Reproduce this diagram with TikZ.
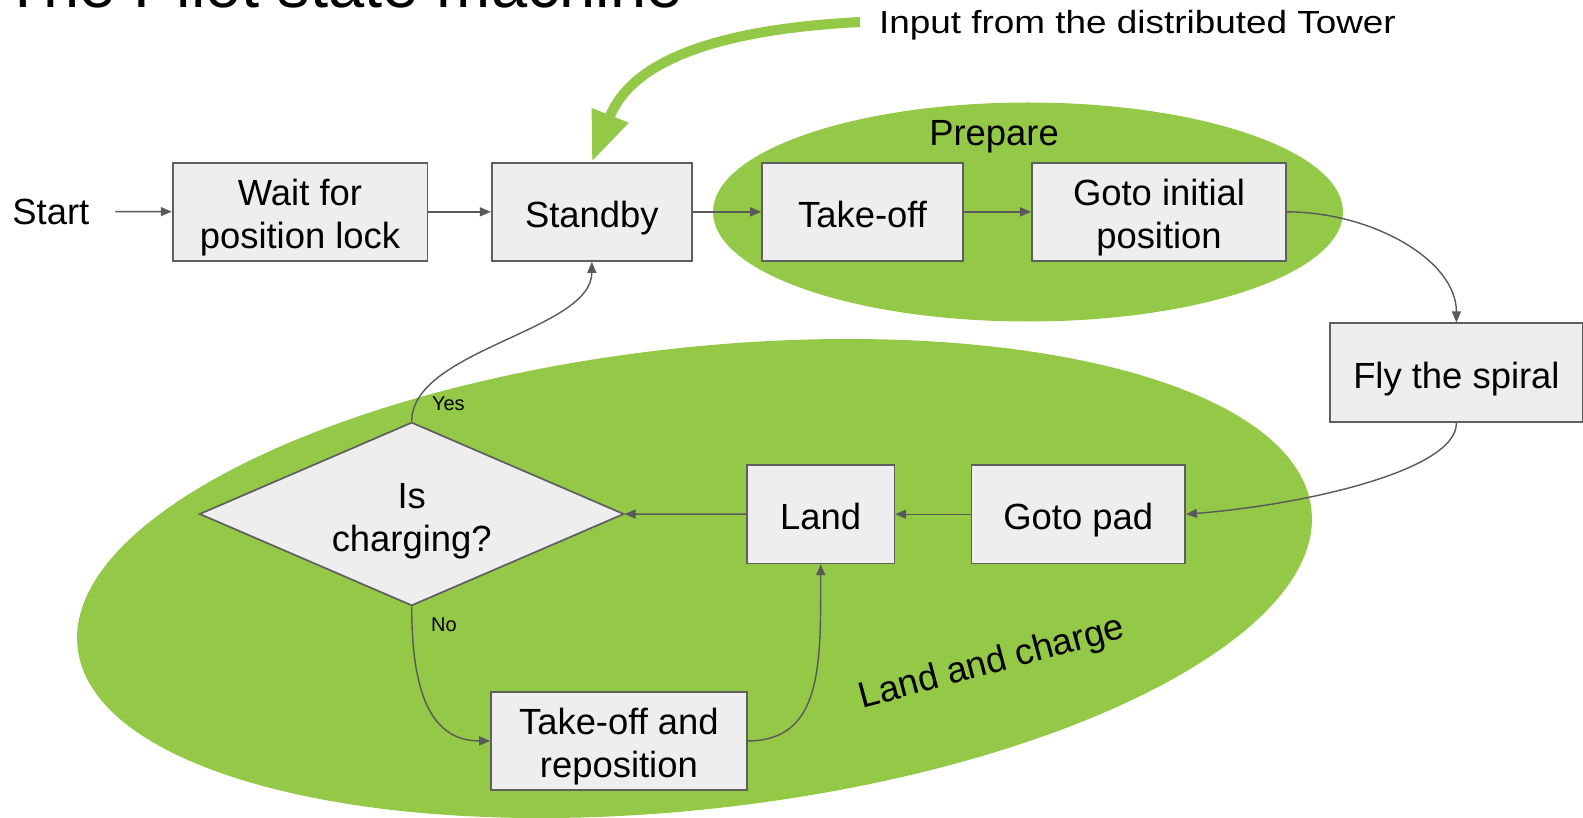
\documentclass[tikz,border=0pt]{standalone}
\usepackage{graphicx}
\usepackage{fontspec}
\setmainfont{Liberation Sans}
\usetikzlibrary{arrows.meta,shapes.geometric}
\definecolor{lgreen}{HTML}{94C847}
\definecolor{boxfill}{HTML}{EEEEEE}
\definecolor{boxline}{HTML}{5F5F5F}
\definecolor{conncol}{HTML}{595959}
\newcommand{\bigfont}{\fontsize{18.2}{21.5}\selectfont}
\newcommand{\linestrut}{\rule[-3.8pt]{0pt}{23.1pt}}
\newcommand{\topstrut}{\rule{0pt}{19.3pt}}
\newcommand{\botstrut}{\rule[-3.8pt]{0pt}{3.8pt}}
\newcommand{\twolines}[2]{\topstrut #1\\#2\botstrut}
\begin{document}
\begin{tikzpicture}[x=0.5pt,y=-0.5pt,
  box/.style={draw=boxline, fill=boxfill, line width=0.85pt, inner sep=0pt, align=center, font=\bigfont, minimum height=49.15pt},
  conn/.style={draw=conncol, line width=0.7pt, -{Triangle[length=5.5pt,width=4.5pt]}},
  lbl/.style={font=\bigfont, inner sep=0pt, align=center},
  small/.style={font=\fontsize{10}{12}\selectfont, inner sep=0pt}]
\useasboundingbox (0,0) rectangle (1583,818);
\clip (0,0) rectangle (1583,818);
% background regions
\fill[lgreen, rotate around={6.4:(694.5,578.5)}] (694.5,578.5) ellipse [x radius=620.8, y radius=230.7];
\fill[lgreen] (1028,212) ellipse [x radius=315, y radius=109.5];
% texts
\node[lbl, anchor=base east] (title) at (683,8) {\fontsize{32.5}{39}\selectfont The Pilot state machine};
\node[lbl, anchor=base west] (input) at (878.6,33.3) {\fontsize{16}{19}\selectfont\scalebox{1.153}[1]{Input from the distributed Tower}};
\coordinate (gstart) at (860,22);
\node[lbl, anchor=base] (prep) at (994,145.7) {Prepare};
\node[lbl, rotate=15] (lac) at (992,664) {Land and charge};
\node[lbl, minimum width=64.2pt] (start) at (50.8,211.5) {Start};
% boxes
\node[box, minimum width=127.35pt] (wait) at (300,211.85) {\twolines{Wait for}{position lock}};
\node[box, minimum width=100.15pt] (standby) at (591.85,211.85) {\linestrut Standby};
\node[box, minimum width=100.5pt] (takeoff) at (862.5,211.85) {\linestrut Take-off};
\node[box, minimum width=127pt] (gotoinit) at (1159,211.85) {\twolines{Goto initial}{position}};
\node[box, minimum width=126.1pt, minimum height=49.5pt] (fly) at (1456.4,372.8) {\linestrut Fly the spiral};
\node[box, minimum width=106.85pt] (gpad) at (1078.2,514.2) {\linestrut Goto pad};
\node[box, minimum width=73.65pt] (land) at (820.7,514.2) {\linestrut Land};
\node[box, minimum width=127.85pt] (tor) at (618.9,740.9) {\twolines{Take-off and}{reposition}};
\node[box, shape=diamond, aspect=2.31, minimum width=212.25pt, minimum height=91.7pt] (diam) at (411.7,514) {\twolines{Is}{charging?}};
% connectors
\draw[conn] (start) -- (wait);
\draw[conn] (wait) -- (standby);
\draw[conn] (standby) -- (takeoff);
\draw[conn] (takeoff) -- (gotoinit);
\draw[conn] (gotoinit.east) .. controls +(84,0) and +(0,-63) .. (fly.north);
\draw[conn] (fly.south) .. controls +(0,48) and +(115,-9) .. (gpad.east);
\draw[conn] (gpad) -- (land);
\draw[conn] (land) -- (diam);
\draw[conn] (diam.north) .. controls +(0,-72) and +(0,69) .. (standby.south);
\draw[conn] (diam.south) .. controls +(0,85) and +(-60,0) .. (tor.west);
\draw[conn] (tor.east) .. controls +(75,0) and +(0,100) .. (land.south);
\draw[lgreen, line width=5pt, -{Triangle[length=25pt,width=18.5pt]}] (gstart) .. controls +(-118.3,6.2) and +(43.5,-110) .. (standby.north);
% labels
\node[small, anchor=base west] (yes) at (431.7,410) {Yes};
\node[small, anchor=base west] (no) at (430.7,631.7) {No};
\end{tikzpicture}
\end{document}
